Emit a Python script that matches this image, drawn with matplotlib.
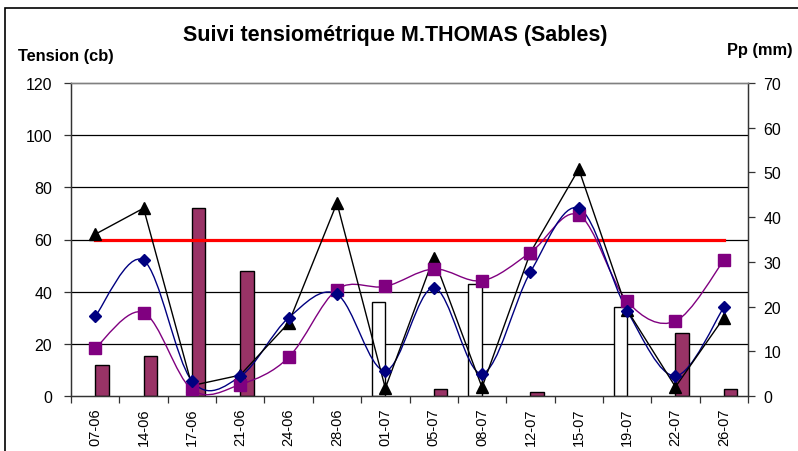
import numpy as np
import matplotlib
matplotlib.use('Agg')
import matplotlib.pyplot as plt
from matplotlib.path import Path
from matplotlib.patches import PathPatch, Rectangle
from matplotlib.transforms import blended_transform_factory

plt.rcParams['font.family'] = ['Liberation Sans', 'DejaVu Sans']

# Données
dates = ['07-06', '14-06', '17-06', '21-06', '24-06', '28-06', '01-07',
         '05-07', '08-07', '12-07', '15-07', '19-07', '22-07', '26-07']
tens_noir = [62, 72, 4, 8, 28, 74, 3, 53, 3.3, 55, 87, 33, 3.5, 30]
tens_bleu = [30.5, 52, 5.8, 7.5, 30, 39, 9.7, 41.5, 8.6, 47.5, 72, 32.7, 7.7, 34]
tens_violet = [18.3, 32, 2.5, 4.4, 14.8, 40.8, 42, 48.7, 44.2, 55, 69.4, 36.3, 28.7, 52]
seuil = [60] * len(dates)
pluie = [7, 9, 42, 28, 0, 0, 0, 1.5, 0, 1, 0, 0, 14, 1.5]
irrigation = [0, 0, 0, 0, 0, 0, 21, 0, 25, 0, 0, 20, 0, 0]
grille = [20, 40, 60, 80, 100]


def courbe_lissee(ax, xs, ys, color, lw=1.0):
    # lissage type Excel (Bezier, tension 1/6)
    pts = np.column_stack([xs, ys]).astype(float)
    verts = [pts[0]]
    codes = [Path.MOVETO]
    n = len(pts)
    for i in range(n - 1):
        p0 = pts[max(i - 1, 0)]
        p1 = pts[i]
        p2 = pts[i + 1]
        p3 = pts[min(i + 2, n - 1)]
        c1 = p1 + (p2 - p0) / 6
        c2 = p2 - (p3 - p1) / 6
        verts += [c1, c2, p2]
        codes += [Path.CURVE4] * 3
    ax.add_patch(PathPatch(Path(verts, codes), facecolor='none',
                           edgecolor=color, lw=lw, zorder=3))


fig = plt.figure(figsize=(7.98, 4.52), dpi=100)
ax = fig.add_axes([71 / 798, 1 - 397 / 452, (748 - 71) / 798, (397 - 84) / 452])
ax2 = ax.twinx()
ax.set_zorder(ax2.get_zorder() + 1)
ax.patch.set_visible(False)

x = np.arange(len(dates))
bw = 0.28

# quadrillage sous les barres
trans = blended_transform_factory(ax2.transAxes, ax.transData)
ax2.hlines(grille, 0, 1, transform=trans, colors='black', lw=0.9, zorder=0)

# barres (les valeurs nulles ne sont pas dessinées)
pl = np.array(pluie, dtype=float)
ir = np.array(irrigation, dtype=float)
ax2.bar((x - bw / 2)[ir > 0], ir[ir > 0], width=bw, color='white',
        edgecolor='black', lw=1.0, zorder=2)
ax2.bar((x + bw / 2)[pl > 0], pl[pl > 0], width=bw, color='#993366',
        edgecolor='black', lw=1.0, zorder=2)

# courbes tension
ax.plot(x, seuil, color='#ff0000', lw=2.3, zorder=2)
ax.plot(x, tens_noir, color='black', lw=1.0, marker='^', markersize=9,
        zorder=4)
courbe_lissee(ax, x, tens_violet, '#800080')
ax.plot(x, tens_violet, ls='none', marker='s', markersize=8,
        color='#800080', zorder=5)
courbe_lissee(ax, x, tens_bleu, '#000080')
ax.plot(x, tens_bleu, ls='none', marker='D', markersize=6.5,
        color='#000080', zorder=6)

ax.set_xlim(-0.5, len(dates) - 0.5)
ax.set_ylim(0, 120)
ax.set_yticks(range(0, 121, 20))
ax2.set_ylim(0, 70)
ax2.set_yticks(range(0, 71, 10))

ax.set_xticks(np.arange(-0.5, len(dates), 1))
ax.set_xticklabels([])
ax.set_xticks(x, minor=True)
ax.set_xticklabels(dates, minor=True, rotation=90)
ax.tick_params(axis='x', which='major', length=5, width=0.9, color='#333333')
ax.tick_params(axis='x', which='minor', length=0, pad=8, labelsize=10.5)
ax.tick_params(axis='y', length=5, width=0.9, color='#333333', labelsize=11.5, pad=8.5)
ax2.tick_params(axis='y', length=5, width=0.9, color='#333333', labelsize=11.5, pad=6)

for a in (ax, ax2):
    for s in ['left', 'right', 'bottom']:
        a.spines[s].set_color('#333333')
        a.spines[s].set_linewidth(0.9)
    a.spines['top'].set_color('#808080')
    a.spines['top'].set_linewidth(1.0)

fig.text(395 / 798, 1 - 36 / 452, 'Suivi tensiométrique M.THOMAS (Sables)',
         ha='center', va='center', fontsize=15.5, fontweight='bold')
fig.text(18 / 798, 1 - 57 / 452, 'Tension (cb)', ha='left', va='center',
         fontsize=11.8, fontweight='bold')
fig.text(793 / 798, 1 - 50 / 452, 'Pp (mm)', ha='right', va='center',
         fontsize=11.8, fontweight='bold')

# cadre du graphique
fig.add_artist(Rectangle((5 / 798, -0.05), 1.0, 1 - 9 / 452 + 0.05,
                         transform=fig.transFigure, fill=False,
                         edgecolor='black', lw=1.2, clip_on=False))

fig.savefig('out.png', dpi=100)
